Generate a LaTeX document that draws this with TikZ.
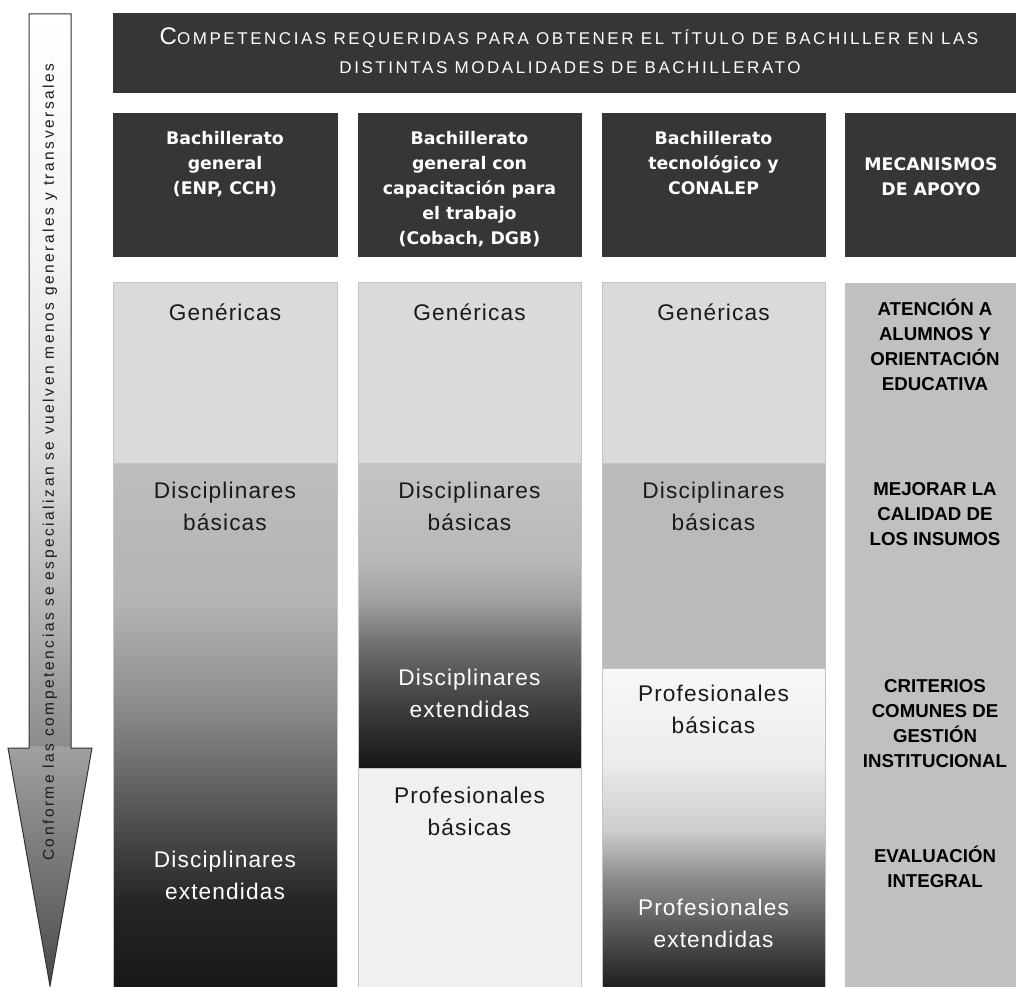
\documentclass[tikz,border=0pt]{standalone}
\usepackage{fontspec}
\setmainfont{Liberation Sans}
\newfontfamily\titlefont{Liberation Sans}[LetterSpace=15]
\newfontfamily\arrowfont{Liberation Sans}[LetterSpace=16.5]
\newfontfamily\cellfont{Liberation Sans}[LetterSpace=5]
\newfontfamily\headfont{DejaVu Sans}
\newfontfamily\mechfont{Liberation Sans}

\definecolor{hdr}{HTML}{363636}
\definecolor{gen}{HTML}{DADADA}
\definecolor{dbas}{HTML}{BABABA}
\definecolor{pbas}{HTML}{F0F0F0}
\definecolor{mech}{HTML}{C0C0C0}
\definecolor{cellline}{HTML}{C4C4C4}
\definecolor{arrowline}{HTML}{333333}
\definecolor{darktext}{HTML}{1A1A1A}
% gray stops
\definecolor{gFF}{HTML}{FFFFFF}
\definecolor{gF8}{HTML}{F8F8F8}
\definecolor{gF4}{HTML}{F4F4F4}
\definecolor{gEC}{HTML}{ECECEC}
\definecolor{gDC}{HTML}{DCDCDC}
\definecolor{gCC}{HTML}{CCCCCC}
\definecolor{gC4}{HTML}{C4C4C4}
\definecolor{gBD}{HTML}{BDBDBD}
\definecolor{gB8}{HTML}{B8B8B8}
\definecolor{gB4}{HTML}{B4B4B4}
\definecolor{gA0}{HTML}{A0A0A0}
\definecolor{g8E}{HTML}{8E8E8E}
\definecolor{g8C}{HTML}{8C8C8C}
\definecolor{g7C}{HTML}{7C7C7C}
\definecolor{g6A}{HTML}{6A6A6A}
\definecolor{g5A}{HTML}{5A5A5A}
\definecolor{g55}{HTML}{555555}
\definecolor{g4A}{HTML}{4A4A4A}
\definecolor{g42}{HTML}{424242}
\definecolor{g26}{HTML}{262626}
\definecolor{g1E}{HTML}{1E1E1E}
\definecolor{g18}{HTML}{181818}
\definecolor{g15}{HTML}{151515}

\pgfdeclareverticalshading{colone}{100bp}{color(0bp)=(g18); color(25bp)=(g18); color(33.3bp)=(g26); color(42.8bp)=(g5A); color(52.4bp)=(g8E); color(61.9bp)=(gB4); color(75bp)=(gBD); color(100bp)=(gBD)}
\pgfdeclareverticalshading{coltwo}{100bp}{color(0bp)=(g15); color(25bp)=(g15); color(36.1bp)=(g42); color(44.3bp)=(g6A); color(52.5bp)=(gA0); color(59.1bp)=(gB8); color(75bp)=(gC4); color(100bp)=(gC4)}
\pgfdeclareverticalshading{colthree}{100bp}{color(0bp)=(g1E); color(25bp)=(g1E); color(33.9bp)=(g55); color(42.2bp)=(g8C); color(49.6bp)=(gCC); color(60.6bp)=(gEC); color(75bp)=(gF8); color(100bp)=(gF8)}
\pgfdeclareverticalshading{arrowsh}{100bp}{color(0bp)=(g4A); color(25bp)=(g4A); color(32bp)=(g7C); color(37.3bp)=(gA0); color(37.4bp)=(g8C); color(44.9bp)=(gB8); color(52.6bp)=(gDC); color(62.9bp)=(gF4); color(75bp)=(gFF); color(100bp)=(gFF)}

\tikzset{
  box/.style={anchor=north west, outer sep=0pt, inner sep=0pt, line width=0.75pt},
  darkbox/.style={box, fill=hdr, draw=hdr},
  cell/.style={box, draw=cellline},
  headtext/.style={anchor=north, inner sep=0pt, align=center, text=white,
    font=\headfont\bfseries\fontsize{13}{18.75}\selectfont},
  bodytext/.style={anchor=north, inner sep=0pt, align=center, text=darktext,
    font=\cellfont\fontsize{17}{24}\selectfont},
  bodywhite/.style={bodytext, text=white},
  mechtext/.style={anchor=north, inner sep=0pt, align=center, text=black,
    font=\mechfont\bfseries\fontsize{14}{18.75}\selectfont},
}

\begin{document}
\begin{tikzpicture}[x=0.75pt,y=-0.75pt]
\useasboundingbox (0,0) rectangle (1016,987);
\fill[white] (0,0) rectangle (1016,987);

% left arrow
\path[draw=arrowline, line width=0.75pt, shading=arrowsh]
  (29,14) -- (71,14) -- (71,748) -- (92,748) -- (50,986) -- (8,748) -- (29,748) -- cycle;
\node[rotate=90, inner sep=0pt, text=darktext, font=\arrowfont\fontsize{11.6}{14}\selectfont] (arrowtext) at (50,462)
  {Conforme las competencias se especializan se vuelven menos generales y transversales};

% title bar
\node[darkbox, minimum width=905*0.75pt, minimum height=79*0.75pt] (title) at (113,14) {};
\node[anchor=base, inner sep=0pt, text=white, font=\titlefont] (title1) at (569,45)
  {{\fontsize{18}{20}\selectfont C}{\fontsize{12.75}{15}\selectfont OMPETENCIAS REQUERIDAS PARA OBTENER EL TÍTULO DE BACHILLER EN LAS}};
\node[anchor=base, inner sep=0pt, text=white, font=\titlefont] (title2) at (570,74)
  {\fontsize{12.75}{15}\selectfont DISTINTAS MODALIDADES DE BACHILLERATO};

% column headers
\node[darkbox, minimum width=224*0.75pt, minimum height=143*0.75pt] (h1) at (113,114) {};
\node[darkbox, minimum width=223*0.75pt, minimum height=143*0.75pt] (h2) at (358,114) {};
\node[darkbox, minimum width=223*0.75pt, minimum height=143*0.75pt] (h3) at (602,114) {};
\node[darkbox, minimum width=173*0.75pt, minimum height=143*0.75pt] (h4) at (845,114) {};
\node[headtext] (h1t) at (225,126.5) {\strut Bachillerato\\general\\(ENP, CCH)};
\node[headtext] (h2t) at (469.5,126.5) {\strut Bachillerato\\general con\\capacitación para\\el trabajo\\(Cobach, DGB)};
\node[headtext] (h3t) at (713.5,126.5) {\strut Bachillerato\\tecnológico y\\CONALEP};
\node[headtext] (h4t) at (931,152.5) {\strut MECANISMOS\\DE APOYO};

% column 1 body
\node[cell, fill=gen, minimum width=224*0.75pt, minimum height=180*0.75pt] (c1gen) at (113,283) {};
\node[cell, shading=colone, minimum width=224*0.75pt, minimum height=526*0.75pt] (c1dis) at (113,463) {};
% column 2 body
\node[cell, fill=gen, minimum width=223*0.75pt, minimum height=180*0.75pt] (c2gen) at (358,283) {};
\node[cell, shading=coltwo, minimum width=223*0.75pt, minimum height=305*0.75pt] (c2dis) at (358,463) {};
\node[cell, fill=pbas, minimum width=223*0.75pt, minimum height=221*0.75pt] (c2pro) at (358,768) {};
% column 3 body
\node[cell, fill=gen, minimum width=223*0.75pt, minimum height=180*0.75pt] (c3gen) at (602,283) {};
\node[cell, fill=dbas, minimum width=223*0.75pt, minimum height=205*0.75pt] (c3dis) at (602,463) {};
\node[cell, shading=colthree, minimum width=223*0.75pt, minimum height=321*0.75pt] (c3pro) at (602,668) {};
% column 4 body
\node[box, fill=mech, minimum width=173*0.75pt, minimum height=706*0.75pt] (c4) at (845,283) {};

% body texts
\node[bodytext] (c1a) at (225,297.6) {\strut Genéricas};
\node[bodytext] (c1b) at (225,475.6) {\strut Disciplinares\\básicas};
\node[bodywhite] (c1c) at (225,844.6) {\strut Disciplinares\\extendidas};

\node[bodytext] (c2a) at (469.5,297.6) {\strut Genéricas};
\node[bodytext] (c2b) at (469.5,475.6) {\strut Disciplinares\\básicas};
\node[bodywhite] (c2c) at (469.5,662.6) {\strut Disciplinares\\extendidas};
\node[bodytext] (c2d) at (469.5,780.6) {\strut Profesionales\\básicas};

\node[bodytext] (c3a) at (713.5,297.6) {\strut Genéricas};
\node[bodytext] (c3b) at (713.5,475.6) {\strut Disciplinares\\básicas};
\node[bodytext] (c3c) at (713.5,678.6) {\strut Profesionales\\básicas};
\node[bodywhite] (c3d) at (713.5,892.6) {\strut Profesionales\\extendidas};

% mechanisms
\node[mechtext] (m1) at (935,298) {\strut ATENCIÓN A\\ALUMNOS Y\\ORIENTACIÓN\\EDUCATIVA};
\node[mechtext] (m2) at (935,478) {\strut MEJORAR LA\\CALIDAD DE\\LOS INSUMOS};
\node[mechtext] (m3) at (935,675) {\strut CRITERIOS\\COMUNES DE\\GESTIÓN\\INSTITUCIONAL};
\node[mechtext] (m4) at (935,845) {\strut EVALUACIÓN\\INTEGRAL};
\end{tikzpicture}
\end{document}
